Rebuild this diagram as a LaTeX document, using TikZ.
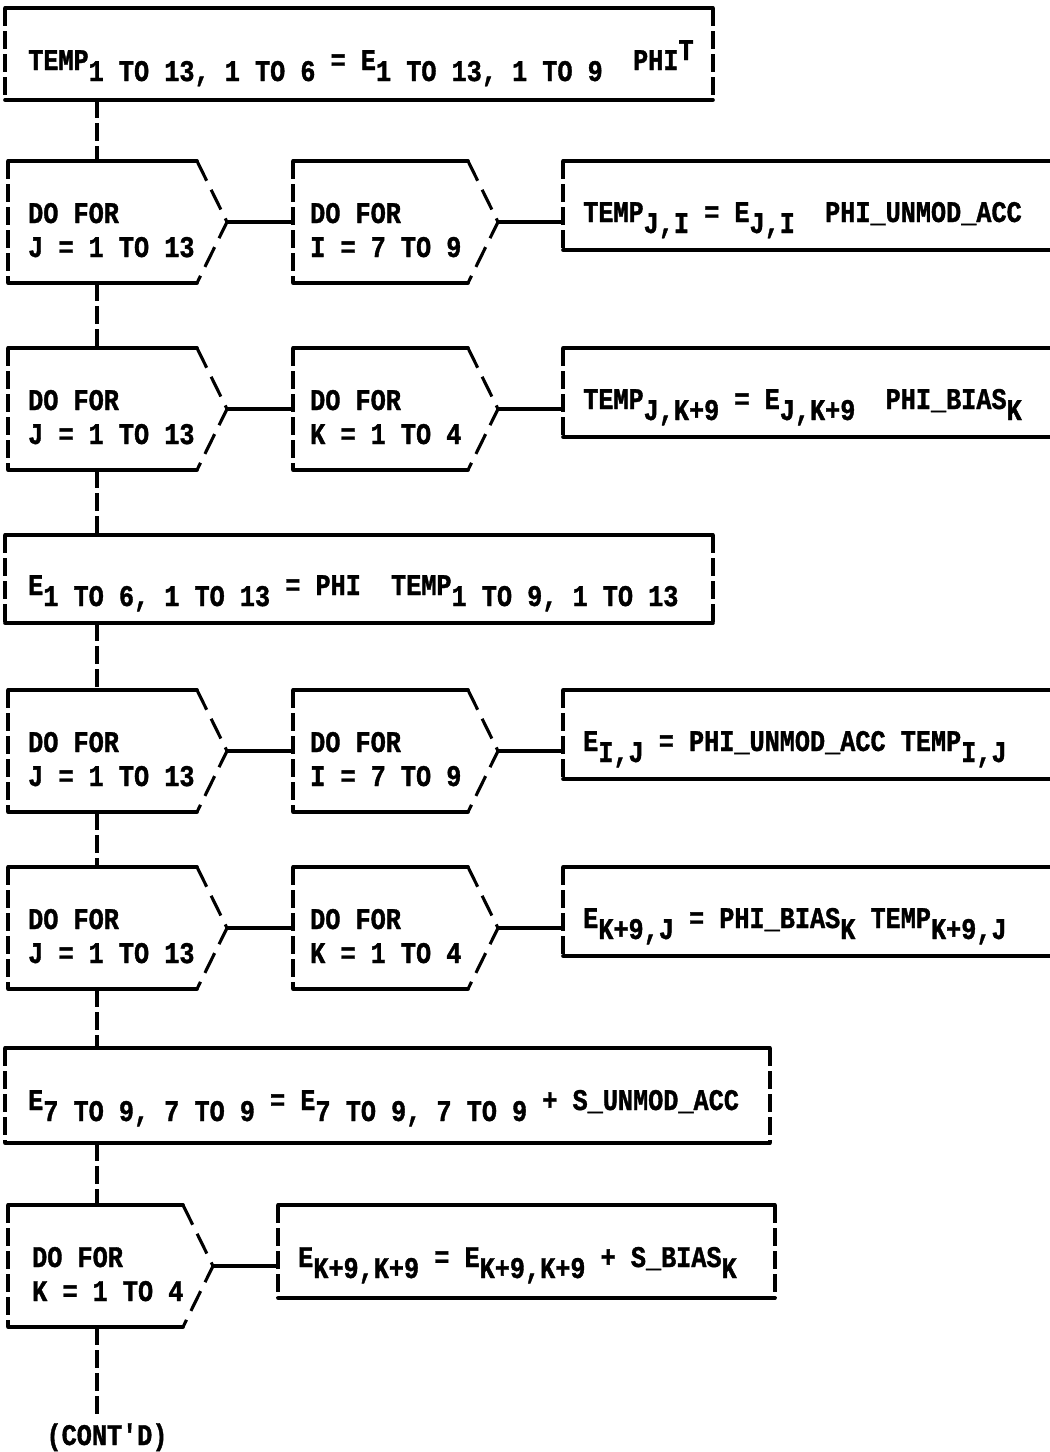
\documentclass[tikz,border=0pt]{standalone}
\usepackage{fontspec}
\newfontfamily\tw{Liberation Mono}[UprightFont=* Bold, FakeStretch=0.84, FakeBold=1.2]
\usetikzlibrary{positioning,calc}
% typewriter half-line shifts
\newcommand{\dn}[1]{\raisebox{-11pt}{#1}}
\newcommand{\up}[1]{\raisebox{10pt}{#1}}
\tikzset{
  frame zone/.style={
    rectangle, inner sep=0pt, outer sep=0pt,
    anchor=north west,
  },
  do zone/.style={frame zone, minimum height=122pt, minimum width=#1},
  set zone/.style={frame zone, minimum height=89pt, minimum width=#1},
  under rule/.style={line width=3.6pt, line cap=round},
  bar rule/.style={line width=3.1pt, dash pattern=on 18pt off 5pt},
  slant rule/.style={line width=3.1pt, dash pattern=on 22pt off 10pt},
  type text/.style={
    anchor=base west, inner sep=0pt, align=left,
    font=\tw\fontsize{30pt}{34pt}\selectfont,
  },
}
% closed statement box
\newcommand{\stmtframe}[1]{%
  \draw[under rule] (#1.north west) -- (#1.north east);
  \draw[under rule] (#1.south west) -- (#1.south east);
  \draw[bar rule] (#1.north west) -- (#1.south west);
  \draw[bar rule] (#1.north east) -- (#1.south east);}
% statement box running off the right edge
\newcommand{\openframe}[1]{%
  \draw[under rule] (#1.north west) -- (#1.north east);
  \draw[under rule] (#1.south west) -- (#1.south east);
  \draw[bar rule] (#1.north west) -- (#1.south west);}
% DO FOR box with pointed right side
\newcommand{\doframe}[1]{%
  \coordinate (#1 tip) at ([xshift=30pt]#1.east);
  \draw[under rule] (#1.north west) -- (#1.north east);
  \draw[under rule] (#1.south west) -- (#1.south east);
  \draw[bar rule] (#1.north west) -- (#1.south west);
  \draw[slant rule] (#1.north east) -- (#1 tip) -- (#1.south east);}

\begin{document}
\begin{tikzpicture}[x=1pt, y=-1pt]
\useasboundingbox[fill=white] (0,0) rectangle (1050,1452);
\coordinate (spine) at (97,0);

% --- Row 1: TEMP = E PHI^T ---
\node[frame zone, minimum width=708pt, minimum height=92pt] (r1) at (5,8) {};
\stmtframe{r1}
\node[type text] (r1 txt) at ([xshift=23pt,yshift=-62pt]r1.north west)
  {TEMP\dn{1 TO 13, 1 TO 6} = E\dn{1 TO 13, 1 TO 9}~~PHI\up{T}};

% --- Row 2: J loop, I loop ---
\node[do zone=189pt] (r2a) at (8,161) {};
\node[do zone=175pt] (r2b) at (293,161) {};
\node[set zone=487pt] (r2c) at (563,161) {};
\doframe{r2a} \doframe{r2b} \openframe{r2c}
\node[type text] (r2a txt) at ([xshift=20pt,yshift=-96pt]r2a.north west) {DO FOR\\J = 1 TO 13};
\node[type text] (r2b txt) at ([xshift=17pt,yshift=-96pt]r2b.north west) {DO FOR\\I = 7 TO 9};
\node[type text] (r2c txt) at ([xshift=20pt,yshift=-61pt]r2c.north west)
  {TEMP\dn{J,I} = E\dn{J,I}~~PHI\_UNMOD\_ACC};
\draw[under rule] (r2a tip) -- (r2b.west);
\draw[under rule] (r2b tip) -- (r2b tip -| r2c.west);

% --- Row 3: J loop, K loop ---
\node[do zone=189pt] (r3a) at (8,348) {};
\node[do zone=175pt] (r3b) at (293,348) {};
\node[set zone=487pt] (r3c) at (563,348) {};
\doframe{r3a} \doframe{r3b} \openframe{r3c}
\node[type text] (r3a txt) at ([xshift=20pt,yshift=-96pt]r3a.north west) {DO FOR\\J = 1 TO 13};
\node[type text] (r3b txt) at ([xshift=17pt,yshift=-96pt]r3b.north west) {DO FOR\\K = 1 TO 4};
\node[type text] (r3c txt) at ([xshift=20pt,yshift=-61pt]r3c.north west)
  {TEMP\dn{J,K+9} = E\dn{J,K+9}~~PHI\_BIAS\dn{K}};
\draw[under rule] (r3a tip) -- (r3b.west);
\draw[under rule] (r3b tip) -- (r3b tip -| r3c.west);

% --- Row 4: E = PHI TEMP ---
\node[frame zone, minimum width=708pt, minimum height=88pt] (r4) at (5,535) {};
\stmtframe{r4}
\node[type text] (r4 txt) at ([xshift=23pt,yshift=-60pt]r4.north west)
  {E\dn{1 TO 6, 1 TO 13} = PHI~~TEMP\dn{1 TO 9, 1 TO 13}};

% --- Row 5: J loop, I loop ---
\node[do zone=189pt] (r5a) at (8,690) {};
\node[do zone=175pt] (r5b) at (293,690) {};
\node[set zone=487pt] (r5c) at (563,690) {};
\doframe{r5a} \doframe{r5b} \openframe{r5c}
\node[type text] (r5a txt) at ([xshift=20pt,yshift=-96pt]r5a.north west) {DO FOR\\J = 1 TO 13};
\node[type text] (r5b txt) at ([xshift=17pt,yshift=-96pt]r5b.north west) {DO FOR\\I = 7 TO 9};
\node[type text] (r5c txt) at ([xshift=20pt,yshift=-61pt]r5c.north west)
  {E\dn{I,J} = PHI\_UNMOD\_ACC TEMP\dn{I,J}};
\draw[under rule] (r5a tip) -- (r5b.west);
\draw[under rule] (r5b tip) -- (r5b tip -| r5c.west);

% --- Row 6: J loop, K loop ---
\node[do zone=189pt] (r6a) at (8,867) {};
\node[do zone=175pt] (r6b) at (293,867) {};
\node[set zone=487pt] (r6c) at (563,867) {};
\doframe{r6a} \doframe{r6b} \openframe{r6c}
\node[type text] (r6a txt) at ([xshift=20pt,yshift=-96pt]r6a.north west) {DO FOR\\J = 1 TO 13};
\node[type text] (r6b txt) at ([xshift=17pt,yshift=-96pt]r6b.north west) {DO FOR\\K = 1 TO 4};
\node[type text] (r6c txt) at ([xshift=20pt,yshift=-61pt]r6c.north west)
  {E\dn{K+9,J} = PHI\_BIAS\dn{K} TEMP\dn{K+9,J}};
\draw[under rule] (r6a tip) -- (r6b.west);
\draw[under rule] (r6b tip) -- (r6b tip -| r6c.west);

% --- Row 7: E = E + S_UNMOD_ACC ---
\node[frame zone, minimum width=765pt, minimum height=95pt] (r7) at (5,1048) {};
\stmtframe{r7}
\node[type text] (r7 txt) at ([xshift=23pt,yshift=-62pt]r7.north west)
  {E\dn{7 TO 9, 7 TO 9} = E\dn{7 TO 9, 7 TO 9} + S\_UNMOD\_ACC};

% --- Row 8: K loop ---
\node[do zone=175pt] (r8a) at (8,1205) {};
\node[set zone=497pt, minimum height=93pt] (r8b) at (278,1205) {};
\doframe{r8a} \stmtframe{r8b}
\node[type text] (r8a txt) at ([xshift=24pt,yshift=-96pt]r8a.north west) {DO FOR\\K = 1 TO 4};
\node[type text] (r8b txt) at ([xshift=20pt,yshift=-62pt]r8b.north west)
  {E\dn{K+9,K+9} = E\dn{K+9,K+9} + S\_BIAS\dn{K}};
\draw[under rule] (r8a tip) -- (r8a tip -| r8b.west);

\node[type text, anchor=base] (cont) at (107,1445) {(CONT'D)};

% --- spine down the left ---
\draw[bar rule] (r1.south -| spine) -- (r2a.north -| spine);
\draw[bar rule] (r2a.south -| spine) -- (r3a.north -| spine);
\draw[bar rule] (r3a.south -| spine) -- (r4.north -| spine);
\draw[bar rule] (r4.south -| spine) -- (r5a.north -| spine);
\draw[bar rule] (r5a.south -| spine) -- (r6a.north -| spine);
\draw[bar rule] (r6a.south -| spine) -- (r7.north -| spine);
\draw[bar rule] (r7.south -| spine) -- (r8a.north -| spine);
\draw[bar rule] (r8a.south -| spine) -- ([yshift=6pt]cont.north -| spine);

\end{tikzpicture}
\end{document}
